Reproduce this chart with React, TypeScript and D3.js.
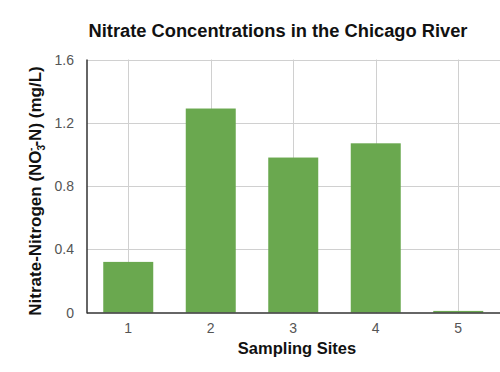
import * as d3 from "d3";
import React, { useEffect, useRef } from "react";

const sites = ["1", "2", "3", "4", "5"];
const nitrate = [0.32, 1.29, 0.98, 1.07, 0.01];
const yTicks = [0, 0.4, 0.8, 1.2, 1.6];

const CONFIG = {
  width: 500,
  height: 372,
  left: 87,
  right: 499.5,
  top: 59.5,
  bottom: 312.5,
  barColor: "#6aa84f",
  gridColor: "#d0d0d0",
  font: "Arial, 'Liberation Sans', sans-serif",
};

const App: React.FC = () => {
  const svgRef = useRef<SVGSVGElement>(null);

  useEffect(() => {
    drawChart();
  }, []);

  const drawChart = () => {
    const svg = d3.select(svgRef.current);
    svg.selectAll("*").remove();

    const x = d3
      .scaleBand()
      .domain(sites)
      .range([CONFIG.left, CONFIG.right])
      .paddingInner(0.394)
      .paddingOuter(0.197);

    const y = d3
      .scaleLinear()
      .domain([0, 1.6])
      .range([CONFIG.bottom, CONFIG.top]);

    svg
      .append("rect")
      .attr("width", CONFIG.width)
      .attr("height", CONFIG.height)
      .attr("fill", "white");

    // horizontal gridlines
    svg
      .append("g")
      .selectAll("line")
      .data(yTicks.slice(1))
      .enter()
      .append("line")
      .attr("x1", CONFIG.left)
      .attr("x2", CONFIG.width)
      .attr("y1", (d: number) => Math.round(y(d)) + 0.5)
      .attr("y2", (d: number) => Math.round(y(d)) + 0.5)
      .attr("stroke", CONFIG.gridColor)
      .attr("stroke-width", 1);

    // vertical gridlines at category centers
    svg
      .append("g")
      .selectAll("line")
      .data(sites)
      .enter()
      .append("line")
      .attr("x1", (d: string) => Math.round(x(d)! + x.bandwidth() / 2) + 0.5)
      .attr("x2", (d: string) => Math.round(x(d)! + x.bandwidth() / 2) + 0.5)
      .attr("y1", CONFIG.top)
      .attr("y2", CONFIG.bottom)
      .attr("stroke", CONFIG.gridColor)
      .attr("stroke-width", 1);

    svg
      .append("g")
      .selectAll("rect")
      .data(nitrate)
      .enter()
      .append("rect")
      .attr("x", (_: number, i: number) => x(sites[i])!)
      .attr("y", (d: number) => y(d))
      .attr("width", x.bandwidth())
      .attr("height", (d: number) => CONFIG.bottom - y(d))
      .attr("fill", CONFIG.barColor);

    // axis lines
    svg
      .append("line")
      .attr("x1", CONFIG.left)
      .attr("x2", CONFIG.left)
      .attr("y1", CONFIG.top)
      .attr("y2", CONFIG.bottom + 1)
      .attr("stroke", "#333")
      .attr("stroke-width", 1.5);

    svg
      .append("line")
      .attr("x1", CONFIG.left)
      .attr("x2", CONFIG.width)
      .attr("y1", CONFIG.bottom + 0.5)
      .attr("y2", CONFIG.bottom + 0.5)
      .attr("stroke", "#333")
      .attr("stroke-width", 1.5);

    // y tick labels
    svg
      .append("g")
      .selectAll("text")
      .data(yTicks)
      .enter()
      .append("text")
      .attr("x", 74)
      .attr("y", (d: number) => y(d) + 5)
      .attr("text-anchor", "end")
      .attr("font-family", CONFIG.font)
      .attr("font-size", 14)
      .attr("fill", "#555")
      .text((d: number) => (d === 0 ? "0" : d.toFixed(1)));

    // x tick labels
    svg
      .append("g")
      .selectAll("text")
      .data(sites)
      .enter()
      .append("text")
      .attr("x", (d: string) => x(d)! + x.bandwidth() / 2)
      .attr("y", 333)
      .attr("text-anchor", "middle")
      .attr("font-family", CONFIG.font)
      .attr("font-size", 14)
      .attr("fill", "#555")
      .text((d: string) => d);

    svg
      .append("text")
      .attr("x", 278)
      .attr("y", 37)
      .attr("text-anchor", "middle")
      .attr("font-family", CONFIG.font)
      .attr("font-size", 18.3)
      .attr("font-weight", "bold")
      .attr("fill", "#111")
      .text("Nitrate Concentrations in the Chicago River");

    svg
      .append("text")
      .attr("x", 297)
      .attr("y", 354)
      .attr("text-anchor", "middle")
      .attr("font-family", CONFIG.font)
      .attr("font-size", 16.5)
      .attr("font-weight", "bold")
      .attr("fill", "#111")
      .text("Sampling Sites");

    const yLabel = svg
      .append("text")
      .attr("transform", "translate(40.5, 191) rotate(-90)")
      .attr("text-anchor", "middle")
      .attr("font-family", CONFIG.font)
      .attr("font-size", 17)
      .attr("font-weight", "bold")
      .attr("fill", "#111");
    yLabel.append("tspan").text("Nitrate-Nitrogen (NO");
    yLabel
      .append("tspan")
      .attr("font-size", 10)
      .attr("dy", 4)
      .text("3");
    yLabel
      .append("tspan")
      .attr("font-size", 10)
      .attr("dx", -6)
      .attr("dy", -11)
      .text("-");
    yLabel.append("tspan").attr("dx", 1).attr("dy", 7).text("-N) (mg/L)");
  };

  return (
    <svg
      ref={svgRef}
      width={CONFIG.width}
      height={CONFIG.height}
      style={{ position: "absolute", left: 0, top: 0 }}
    />
  );
};

export default App;
